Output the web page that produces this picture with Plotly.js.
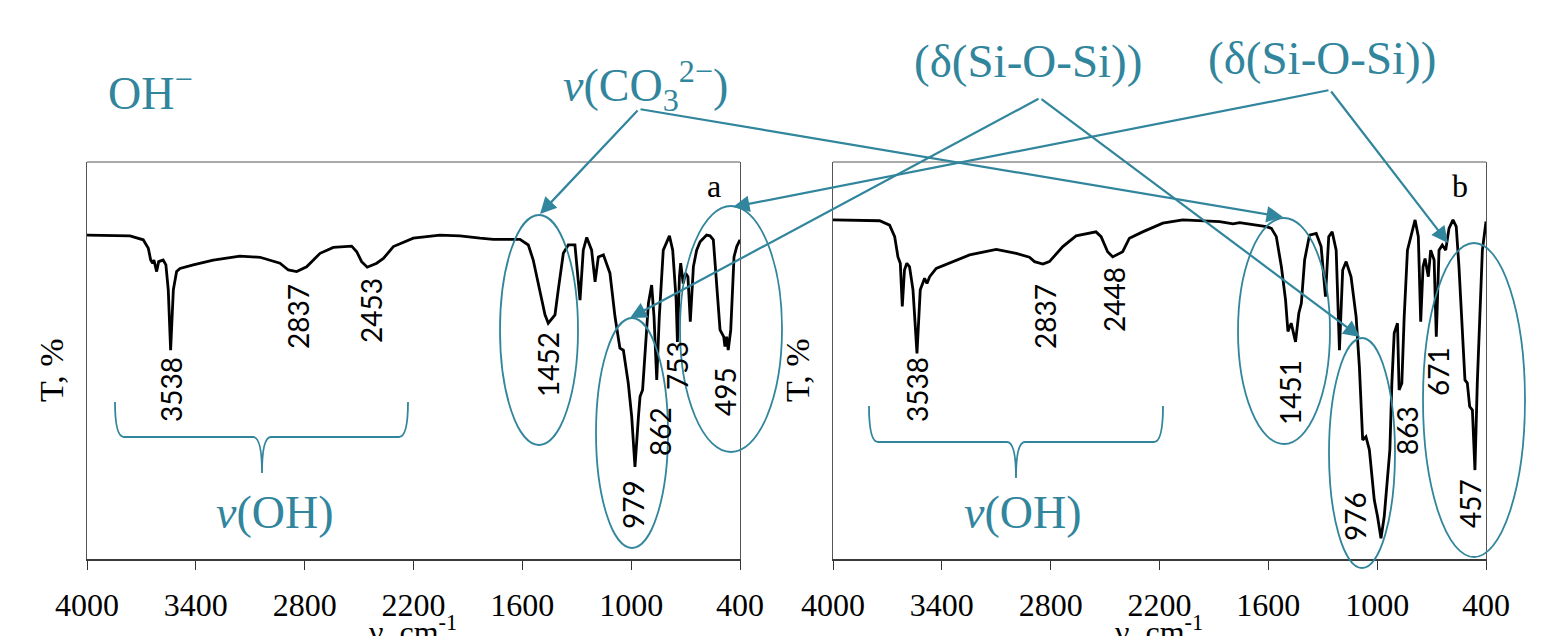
<!DOCTYPE html>
<html><head><meta charset="utf-8">
<script src="https://cdn.plot.ly/plotly-3.0.1.min.js"></script>
<style>html,body{margin:0;padding:0;background:#fff;}#chart{width:1548px;height:636px;}</style>
</head><body><div id="chart"></div>
<script>
// ---- Panel a spectrum (wavenumber, T %) ----
const waveA = [4000,3763,3690,3662,3649,3638,3631,3616,3605,3580,3565,3552,3539,3524,3506,3487,3414,3304,3157,3046,2936,2890,2844,2789,2715,2642,2541,2513,2486,2455,2403,2366,2311,2201,2054,1944,1833,1760,1613,1567,1540,1503,1475,1457,1420,1402,1374,1347,1310,1282,1264,1245,1218,1199,1181,1153,1117,1089,1062,1043,1016,997,979,960,951,937,924,905,887,874,859,845,823,789,771,752,745,734,727,713,700,687,674,657,639,620,584,565,547,529,510,490,483,474,465,451,440,433,418,400];
const transA = [81.6,81.4,80.4,78.3,75.3,74.5,75.3,72.4,74.9,75.3,74.1,67.8,52.6,67.8,72.4,73.2,74.1,75.3,76.3,76.0,74.5,72.8,72.4,73.6,77.0,78.5,78.8,77.4,74.9,73.5,74.5,75.7,78.7,80.8,81.6,81.4,80.8,80.5,80.5,79.1,75.3,67.8,61.5,59.4,61.5,67.8,77.0,79.1,79.1,65.2,77.8,81.0,77.8,69.8,76.1,76.6,72.0,61.0,53.1,52.6,44.3,35.8,23.2,35.8,40.9,42.6,52.6,64.4,69.0,61.0,45.1,61.0,77.8,81.4,77.8,65.2,54.7,71.1,74.5,69.4,72.0,71.1,59.8,73.6,77.8,79.9,81.6,81.4,80.4,69.4,57.7,56.0,53.5,56.0,52.6,57.7,69.4,76.1,78.7,80.4];
// ---- Panel b spectrum ----
const waveB = [4000,3743,3688,3660,3642,3629,3618,3606,3593,3578,3559,3537,3519,3495,3482,3467,3431,3357,3247,3100,2990,2917,2889,2843,2807,2733,2660,2550,2522,2486,2458,2403,2366,2293,2182,2072,1962,1868,1795,1758,1611,1583,1556,1528,1505,1492,1474,1450,1432,1418,1400,1373,1336,1309,1285,1267,1248,1226,1208,1190,1171,1144,1116,1098,1080,1062,1043,1016,998,979,961,943,930,919,906,888,879,864,851,833,815,791,773,760,747,736,718,705,686,674,659,641,622,604,582,564,549,530,516,503,490,475,461,448,435,420,400];
const transB = [85.4,85.2,84.1,81.2,76.1,74.5,63.6,72.8,74.5,73.6,67.8,51.8,67.8,70.7,69.4,71.1,73.2,74.5,76.6,78.0,77.0,76.0,74.9,74.3,74.9,78.7,81.4,82.4,81.2,77.4,76.1,77.4,80.8,82.4,84.6,85.4,85.2,85.0,84.4,84.7,83.7,83.3,81.2,73.6,65.2,57.3,59.4,54.7,61.9,64.4,75.3,81.6,82.0,78.7,66.1,81.2,82.4,77.8,52.6,72.8,74.9,71.1,61.0,48.4,30.0,30.8,27.5,14.9,10.7,5.2,10.7,21.6,27.5,44.3,56.9,59.4,42.6,44.3,61.0,77.8,81.2,85.4,81.2,59.8,73.6,75.7,71.1,77.8,75.3,56.0,77.8,79.1,77.8,83.3,85.4,83.7,73.6,56.0,45.1,44.3,38.4,37.5,22.4,44.3,61.0,77.8,85.0];
// ---- Tick labels / texts ----
const tickVals = [4000,3400,2800,2200,1600,1000,400];
const tickText = ['4000','3400','2800','2200','1600','1000','400'];
const peaksA = ['3538','2837','2453','1452','979','862','753','495'];
const peaksB = ['3538','2837','2448','1451','976','863','671','457'];

const W = 1548, H = 636;
const PX = x => x / W, PY = y => 1 - y / H;
const TEAL = '#31859C';
const SERIF = 'Liberation Serif, Times New Roman, serif';
const SANS = 'Lato, Carlito, sans-serif';

const traces = [
  {x: waveA, y: transA, type: 'scatter', mode: 'lines', line: {color: '#000', width: 2.8}, xaxis: 'x', yaxis: 'y', hoverinfo: 'skip'},
  {x: waveB, y: transB, type: 'scatter', mode: 'lines', line: {color: '#000', width: 2.8}, xaxis: 'x2', yaxis: 'y2', hoverinfo: 'skip'}
];

const yDom = [PY(559), PY(162)];
function xax(dom, anchor) {
  return {domain: dom, anchor: anchor, range: [4000, 400], tickmode: 'array', tickvals: tickVals, ticktext: tickText,
    ticks: 'outside', ticklen: 9, tickwidth: 1, tickcolor: '#333', showline: true, linecolor: '#3a3a3a', linewidth: 2,
    showgrid: false, zeroline: false, ticklabelstandoff: 8,
    tickfont: {family: SERIF, size: 32, color: '#000'}};
}
function yax(anchor) {
  return {domain: yDom, anchor: anchor, range: [0, 100], showticklabels: false, ticks: '', showgrid: false,
    zeroline: false, showline: true, linecolor: '#555', linewidth: 1, mirror: true};
}

const shapes = [];
[[87, 740], [833, 1486]].forEach(([a, b]) => shapes.push({type: 'line', xref: 'paper', yref: 'paper', x0: PX(a), x1: PX(b), y0: PY(162), y1: PY(162), line: {color: '#555', width: 1}}));
const ellipses = [[539, 330, 39, 115], [632, 433, 36, 115], [731, 329, 51, 123], [1284, 331, 46, 113], [1362, 453, 33, 115], [1474, 400, 51, 157]];
ellipses.forEach(([cx, cy, rx, ry]) => shapes.push({type: 'circle', xref: 'paper', yref: 'paper', x0: PX(cx - rx), x1: PX(cx + rx), y0: PY(cy + ry), y1: PY(cy - ry), line: {color: TEAL, width: 1.8}}));
function brace(x0, x1, xm, yt, yl, ytip) {
  const p = (x, y) => PX(x) + ',' + PY(y);
  const r = 9;
  return 'M' + p(x0, yt) + ' Q' + p(x0, yl) + ' ' + p(x0 + r, yl) + ' L' + p(xm - r, yl) + ' Q' + p(xm, yl) + ' ' + p(xm, ytip) +
    ' Q' + p(xm, yl) + ' ' + p(xm + r, yl) + ' L' + p(x1 - r, yl) + ' Q' + p(x1, yl) + ' ' + p(x1, yt);
}
shapes.push({type: 'path', xref: 'paper', yref: 'paper', path: brace(115, 408, 262, 402, 437, 473), line: {color: TEAL, width: 1.8}});
shapes.push({type: 'path', xref: 'paper', yref: 'paper', path: brace(869, 1163, 1016, 406, 442, 478), line: {color: TEAL, width: 1.8}});

const ann = [];
function txt(text, x, y, size, color, family, angle) {
  ann.push({text: text, x: PX(x), y: PY(y), xref: 'paper', yref: 'paper', xanchor: 'center', yanchor: 'middle', showarrow: false,
    textangle: angle || 0, font: {family: family, size: size, color: color}});
}
const posA = [[171, 390], [298, 317], [371, 311], [548, 365], [633, 505], [660, 432], [677, 366], [725, 392]];
const posB = [[917, 390], [1045, 317], [1114, 300], [1290, 393], [1355, 517], [1407, 431], [1438, 372], [1470, 504]];
peaksA.forEach((t, i) => txt(t, posA[i][0], posA[i][1], 28, '#000', SANS, -90));
peaksB.forEach((t, i) => txt(t, posB[i][0], posB[i][1], 28, '#000', SANS, -90));
txt('a', 714, 186, 32, '#000', SERIF);
txt('b', 1460, 186, 32, '#000', SERIF);
txt('T, %', 51, 370, 34, '#000', SERIF, -90);
txt('T, %', 797, 370, 34, '#000', SERIF, -90);
txt('ν, cm<sup>-1</sup>', 413, 630, 32, '#000', SERIF);
txt('ν, cm<sup>-1</sup>', 1159, 630, 32, '#000', SERIF);
txt('OH<sup>−</sup>', 150, 90, 46, TEAL, SERIF);
txt('<i>ν</i>(CO<sub>3</sub><sup>2−</sup>)', 645, 86, 46, TEAL, SERIF);
txt('(δ(Si-O-Si))', 1028, 61, 47, TEAL, SERIF);
txt('(δ(Si-O-Si))', 1322, 58, 47, TEAL, SERIF);
txt('<i>ν</i>(OH)', 275, 512, 46, TEAL, SERIF);
txt('<i>ν</i>(OH)', 1023, 512, 46, TEAL, SERIF);
const arrows = [[639, 109, 540, 214], [639, 109, 1283, 217], [1040, 98, 630, 318], [1040, 98, 1360, 337], [1330, 90, 733, 207], [1330, 90, 1448, 243]];
arrows.forEach(([sx, sy, tx, ty]) => ann.push({text: '', x: PX(tx), y: PY(ty), xref: 'paper', yref: 'paper', showarrow: true,
  ax: sx - tx, ay: sy - ty, arrowcolor: TEAL, arrowwidth: 2.2, arrowhead: 2, arrowsize: 1.5, standoff: 0}));

const layout = {width: W, height: H, margin: {l: 0, r: 0, t: 0, b: 0}, paper_bgcolor: '#fff', plot_bgcolor: '#fff', showlegend: false,
  xaxis: xax([PX(87), PX(740)], 'y'), yaxis: yax('x'), xaxis2: xax([PX(833), PX(1486)], 'y2'), yaxis2: yax('x2'),
  shapes: shapes, annotations: ann};
Plotly.newPlot('chart', traces, layout, {staticPlot: true, displayModeBar: false});
</script></body></html>
